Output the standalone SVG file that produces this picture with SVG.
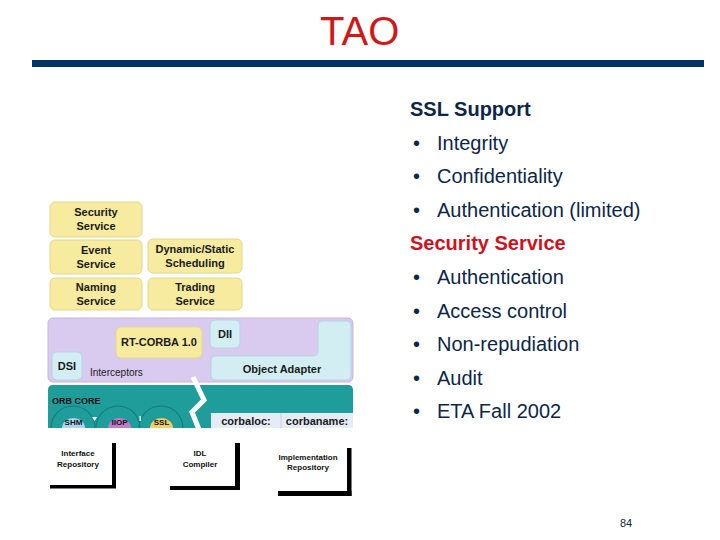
<svg xmlns="http://www.w3.org/2000/svg" width="720" height="540" viewBox="0 0 720 540">
<style>
text{font-family:"Liberation Sans",Arial,sans-serif}
.hd{font-size:20px;font-weight:bold}
.bl{font-size:20px;fill:#0d2648}
.yb{fill:#f6eb9e;stroke:#e3d78c;stroke-width:1}
.cy{fill:#d3eef3;stroke:#b5d5de;stroke-width:1}
.bx{font-size:11px;font-weight:bold;fill:#1a1a1a;text-anchor:middle}
.sm{font-size:8px;font-weight:bold;fill:#111;text-anchor:middle}
.arc{fill:none;stroke:#137c7a;stroke-width:1.2}
</style>
<rect width="720" height="540" fill="#ffffff"/>
<g id="title">
<text x="320" y="45" font-size="40" fill="#d01818">TAO</text>
<rect x="32" y="60" width="672" height="7" fill="#003366"/>
</g>
<g id="bullets">
<text x="410" y="116" class="hd" fill="#0d2648">SSL Support</text>
<text x="413" y="150" class="bl">•</text><text x="437" y="150" class="bl">Integrity</text>
<text x="413" y="183" class="bl">•</text><text x="437" y="183" class="bl">Confidentiality</text>
<text x="413" y="217" class="bl">•</text><text x="437" y="217" class="bl">Authentication (limited)</text>
<text x="410" y="250" class="hd" fill="#d0121e">Security Service</text>
<text x="413" y="284" class="bl">•</text><text x="437" y="284" class="bl">Authentication</text>
<text x="413" y="318" class="bl">•</text><text x="437" y="318" class="bl">Access control</text>
<text x="413" y="351" class="bl">•</text><text x="437" y="351" class="bl">Non-repudiation</text>
<text x="413" y="385" class="bl">•</text><text x="437" y="385" class="bl">Audit</text>
<text x="413" y="418" class="bl">•</text><text x="437" y="418" class="bl">ETA Fall 2002</text>
<text x="620" y="527" font-size="11" fill="#0d2648">84</text>
</g>
<g id="security-service"><rect class="yb" x="50" y="202" width="92" height="35" rx="5"/><text class="bx" x="96" y="216">Security</text><text class="bx" x="96" y="230">Service</text></g>
<g id="event-service"><rect class="yb" x="50" y="240" width="92" height="34" rx="5"/><text class="bx" x="96" y="254">Event</text><text class="bx" x="96" y="268">Service</text></g>
<g id="naming-service"><rect class="yb" x="50" y="278" width="92" height="32" rx="5"/><text class="bx" x="96" y="291">Naming</text><text class="bx" x="96" y="305">Service</text></g>
<g id="scheduling"><rect class="yb" x="148" y="239" width="94" height="34" rx="5"/><text class="bx" x="195" y="253">Dynamic/Static</text><text class="bx" x="195" y="267">Scheduling</text></g>
<g id="trading-service"><rect class="yb" x="148" y="278" width="94" height="32" rx="5"/><text class="bx" x="195" y="291">Trading</text><text class="bx" x="195" y="305">Service</text></g>
<g id="orb-layer">
<rect x="48" y="318" width="305" height="64" rx="5" fill="#d9caef" stroke="#c6b6de"/>
<rect class="yb" x="116" y="327" width="86" height="31" rx="5"/>
<text class="bx" x="159" y="346">RT-CORBA 1.0</text>
<rect class="cy" x="210" y="320" width="30" height="28" rx="5"/>
<text class="bx" x="225" y="338" font-size="10">DII</text>
<path class="cy" d="M216,356 L313,356 Q318,356 318,351 L318,326 Q318,321 323,321 L346,321 Q351,321 351,326 L351,375 Q351,380 346,380 L216,380 Q211,380 211,375 L211,361 Q211,356 216,356 Z"/>
<text class="bx" x="282" y="373" font-size="12.5">Object Adapter</text>
<rect class="cy" x="52" y="352" width="30" height="28" rx="5"/>
<text class="bx" x="67" y="370" font-size="10">DSI</text>
<text x="90" y="376" font-size="10" fill="#1a1a1a">Interceptors</text>
</g>
<g id="orb-core">
<path d="M53,385 L348,385 Q353,385 353,390 L353,413 L211,413 L211,428 L48,428 L48,390 Q48,385 53,385 Z" fill="#1f9d9b"/>
<text x="52" y="404" font-size="9" font-weight="bold" fill="#111">ORB CORE</text>
<path class="arc" d="M51,428 A22,22 0 0 1 95,428"/>
<path class="arc" d="M96,428 A22,22 0 0 1 140,428"/>
<path class="arc" d="M139,428 A22,22 0 0 1 183,428"/>
<path d="M62,428 A11.5,10 0 0 1 85,428 Z" fill="#a8d4f2"/>
<path d="M108,428 A11.5,10 0 0 1 131,428 Z" fill="#c47ccc"/>
<path d="M150,428 A11.5,10 0 0 1 173,428 Z" fill="#f2cf62"/>
<text class="sm" x="73.5" y="425" font-size="7" fill="#1a2a4a">SHM</text>
<text class="sm" x="119.5" y="425" font-size="7">IIOP</text>
<text class="sm" x="161.5" y="425" font-size="7">SSL</text>
<path d="M92,417 L97,417 L94.5,421 Z" fill="#ffffff"/>
<rect x="139.5" y="416" width="1.3" height="5" fill="#ffffff"/>
<rect x="211" y="413" width="142" height="15" fill="#e6ecf6"/>
<line x1="281" y1="413" x2="281" y2="428" stroke="#c8d2e2"/>
<text class="bx" x="246" y="425">corbaloc:</text>
<text class="bx" x="317" y="425">corbaname:</text>
<polyline points="193,377 204,400 192,412 200,432" fill="none" stroke="#ffffff" stroke-width="5" stroke-linejoin="miter"/>
</g>
<g id="interface-repository">
<rect x="112" y="443" width="4" height="45" fill="#000"/><rect x="50" y="485" width="66" height="3.5" fill="#000"/>
<text class="sm" x="78" y="456">Interface</text><text class="sm" x="78" y="467">Repository</text>
</g>
<g id="idl-compiler">
<rect x="235" y="443" width="5" height="47" fill="#000"/><rect x="170" y="486" width="70" height="4" fill="#000"/>
<text class="sm" x="200" y="456">IDL</text><text class="sm" x="200" y="467">Compiler</text>
</g>
<g id="implementation-repository">
<rect x="347" y="448" width="4.5" height="48" fill="#000"/><rect x="278" y="491" width="73.5" height="5" fill="#000"/>
<text class="sm" x="308" y="460">Implementation</text><text class="sm" x="308" y="470">Repository</text>
</g>
</svg>
